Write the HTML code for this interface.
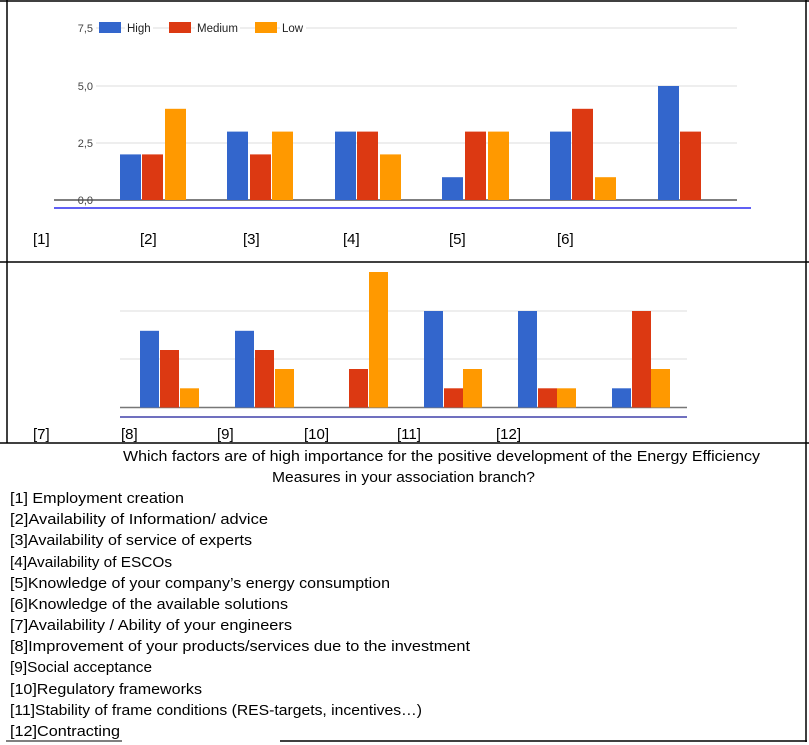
<!DOCTYPE html>
<html><head><meta charset="utf-8"><style>
html,body{margin:0;padding:0;background:#fff;}
svg{display:block;}
.t{font-family:"Liberation Sans",sans-serif;font-size:15px;fill:#000;}
.ax{font-family:"Liberation Sans",sans-serif;font-size:11px;fill:#444;}
.lg{font-family:"Liberation Sans",sans-serif;font-size:11.5px;fill:#222;}
</style></head><body>
<svg width="809" height="745" viewBox="0 0 809 745" xmlns="http://www.w3.org/2000/svg">
<line x1="0" y1="1" x2="809" y2="1" stroke="#000" stroke-width="1.5"/>
<line x1="7" y1="0" x2="7" y2="443" stroke="#000" stroke-width="1.5"/>
<line x1="806" y1="0" x2="806" y2="742" stroke="#000" stroke-width="1.5"/>
<line x1="0" y1="262" x2="809" y2="262" stroke="#000" stroke-width="1.5"/>
<line x1="0" y1="443" x2="809" y2="443" stroke="#000" stroke-width="1.5"/>
<line x1="280" y1="741" x2="807" y2="741" stroke="#000" stroke-width="1.5"/>
<line x1="6" y1="741" x2="122" y2="741" stroke="#000" stroke-width="1"/>

<g stroke="#ddd" stroke-width="1">
<line x1="96" y1="28" x2="737" y2="28"/>
<line x1="96" y1="86" x2="737" y2="86"/>
<line x1="96" y1="143" x2="737" y2="143"/>
</g>
<line x1="54" y1="200" x2="737" y2="200" stroke="#555" stroke-width="1.5"/>
<line x1="54" y1="208" x2="751" y2="208" stroke="#0000ee" stroke-width="1.2"/>
<text class="ax" x="93" y="32" text-anchor="end">7,5</text>
<text class="ax" x="93" y="90" text-anchor="end">5,0</text>
<text class="ax" x="93" y="147" text-anchor="end">2,5</text>
<rect x="74" y="193" width="20" height="6" fill="#fff"/>
<text class="ax" x="93" y="204" text-anchor="end">0,0</text>
<rect x="99" y="22" width="22" height="11" fill="#3366cc"/>
<rect x="125" y="22" width="28" height="12" fill="#fff"/>
<text class="lg" x="127" y="32">High</text>
<rect x="169" y="22" width="22" height="11" fill="#dc3912"/>
<rect x="195" y="22" width="45" height="12" fill="#fff"/>
<text class="lg" x="197" y="32">Medium</text>
<rect x="255" y="22" width="22" height="11" fill="#ff9900"/>
<rect x="280" y="22" width="26" height="12" fill="#fff"/>
<text class="lg" x="282" y="32">Low</text>
<g>
<rect x="120" y="154.4" width="21" height="45.6" fill="#3366cc"/>
<rect x="142" y="154.4" width="21" height="45.6" fill="#dc3912"/>
<rect x="165" y="108.8" width="21" height="91.2" fill="#ff9900"/>
<rect x="227" y="131.6" width="21" height="68.4" fill="#3366cc"/>
<rect x="250" y="154.4" width="21" height="45.6" fill="#dc3912"/>
<rect x="272" y="131.6" width="21" height="68.4" fill="#ff9900"/>
<rect x="335" y="131.6" width="21" height="68.4" fill="#3366cc"/>
<rect x="357" y="131.6" width="21" height="68.4" fill="#dc3912"/>
<rect x="380" y="154.4" width="21" height="45.6" fill="#ff9900"/>
<rect x="442" y="177.2" width="21" height="22.8" fill="#3366cc"/>
<rect x="465" y="131.6" width="21" height="68.4" fill="#dc3912"/>
<rect x="488" y="131.6" width="21" height="68.4" fill="#ff9900"/>
<rect x="550" y="131.6" width="21" height="68.4" fill="#3366cc"/>
<rect x="572" y="108.8" width="21" height="91.2" fill="#dc3912"/>
<rect x="595" y="177.2" width="21" height="22.8" fill="#ff9900"/>
<rect x="658" y="86" width="21" height="114" fill="#3366cc"/>
<rect x="680" y="131.6" width="21" height="68.4" fill="#dc3912"/>
</g>
<text class="t" x="33" y="244">[1]</text>
<text class="t" x="140" y="244">[2]</text>
<text class="t" x="243" y="244">[3]</text>
<text class="t" x="343" y="244">[4]</text>
<text class="t" x="449" y="244">[5]</text>
<text class="t" x="557" y="244">[6]</text>

<g stroke="#ddd" stroke-width="1">
<line x1="120" y1="311" x2="687" y2="311"/>
<line x1="120" y1="359" x2="687" y2="359"/>
</g>
<line x1="120" y1="407.5" x2="687" y2="407.5" stroke="#777" stroke-width="1.5"/>
<line x1="120" y1="417" x2="687" y2="417" stroke="#1a1a99" stroke-width="1.2"/>
<g>
<rect x="140" y="330.8" width="19" height="76.7" fill="#3366cc"/>
<rect x="160" y="350" width="19" height="57.5" fill="#dc3912"/>
<rect x="180" y="388.3" width="19" height="19.2" fill="#ff9900"/>
<rect x="235" y="330.8" width="19" height="76.7" fill="#3366cc"/>
<rect x="255" y="350" width="19" height="57.5" fill="#dc3912"/>
<rect x="275" y="369" width="19" height="38.5" fill="#ff9900"/>
<rect x="349" y="369" width="19" height="38.5" fill="#dc3912"/>
<rect x="369" y="272" width="19" height="135.5" fill="#ff9900"/>
<rect x="424" y="311" width="19" height="96.5" fill="#3366cc"/>
<rect x="444" y="388.3" width="19" height="19.2" fill="#dc3912"/>
<rect x="463" y="369" width="19" height="38.5" fill="#ff9900"/>
<rect x="518" y="311" width="19" height="96.5" fill="#3366cc"/>
<rect x="538" y="388.3" width="19" height="19.2" fill="#dc3912"/>
<rect x="557" y="388.3" width="19" height="19.2" fill="#ff9900"/>
<rect x="612" y="388.3" width="19" height="19.2" fill="#3366cc"/>
<rect x="632" y="311" width="19" height="96.5" fill="#dc3912"/>
<rect x="651" y="369" width="19" height="38.5" fill="#ff9900"/>
</g>
<text class="t" x="33" y="439">[7]</text>
<text class="t" x="121" y="439">[8]</text>
<text class="t" x="217" y="439">[9]</text>
<text class="t" x="304" y="439">[10]</text>
<text class="t" x="397" y="439">[11]</text>
<text class="t" x="496" y="439">[12]</text>

<text class="t" x="123" y="461" textLength="637" lengthAdjust="spacingAndGlyphs">Which factors are of high importance for the positive development of the Energy Efficiency</text>
<text class="t" x="272" y="482" textLength="263" lengthAdjust="spacingAndGlyphs">Measures in your association branch?</text>

<text class="t" x="10" y="503" textLength="174" lengthAdjust="spacingAndGlyphs">[1] Employment creation</text>
<text class="t" x="10" y="524" textLength="258" lengthAdjust="spacingAndGlyphs">[2]Availability of Information/ advice</text>
<text class="t" x="10" y="545" textLength="242" lengthAdjust="spacingAndGlyphs">[3]Availability of service of experts</text>
<text class="t" x="10" y="567" textLength="162" lengthAdjust="spacingAndGlyphs">[4]Availability of ESCOs</text>
<text class="t" x="10" y="588" textLength="380" lengthAdjust="spacingAndGlyphs">[5]Knowledge of your company’s energy consumption</text>
<text class="t" x="10" y="609" textLength="278" lengthAdjust="spacingAndGlyphs">[6]Knowledge of the available solutions</text>
<text class="t" x="10" y="630" textLength="282" lengthAdjust="spacingAndGlyphs">[7]Availability / Ability of your engineers</text>
<text class="t" x="10" y="651" textLength="460" lengthAdjust="spacingAndGlyphs">[8]Improvement of your products/services due to the investment</text>
<text class="t" x="10" y="672" textLength="142" lengthAdjust="spacingAndGlyphs">[9]Social acceptance</text>
<text class="t" x="10" y="694" textLength="192" lengthAdjust="spacingAndGlyphs">[10]Regulatory frameworks</text>
<text class="t" x="10" y="715" textLength="412" lengthAdjust="spacingAndGlyphs">[11]Stability of frame conditions (RES-targets, incentives…)</text>
<text class="t" x="10" y="736" textLength="110" lengthAdjust="spacingAndGlyphs">[12]Contracting</text>
</svg>
</body></html>
